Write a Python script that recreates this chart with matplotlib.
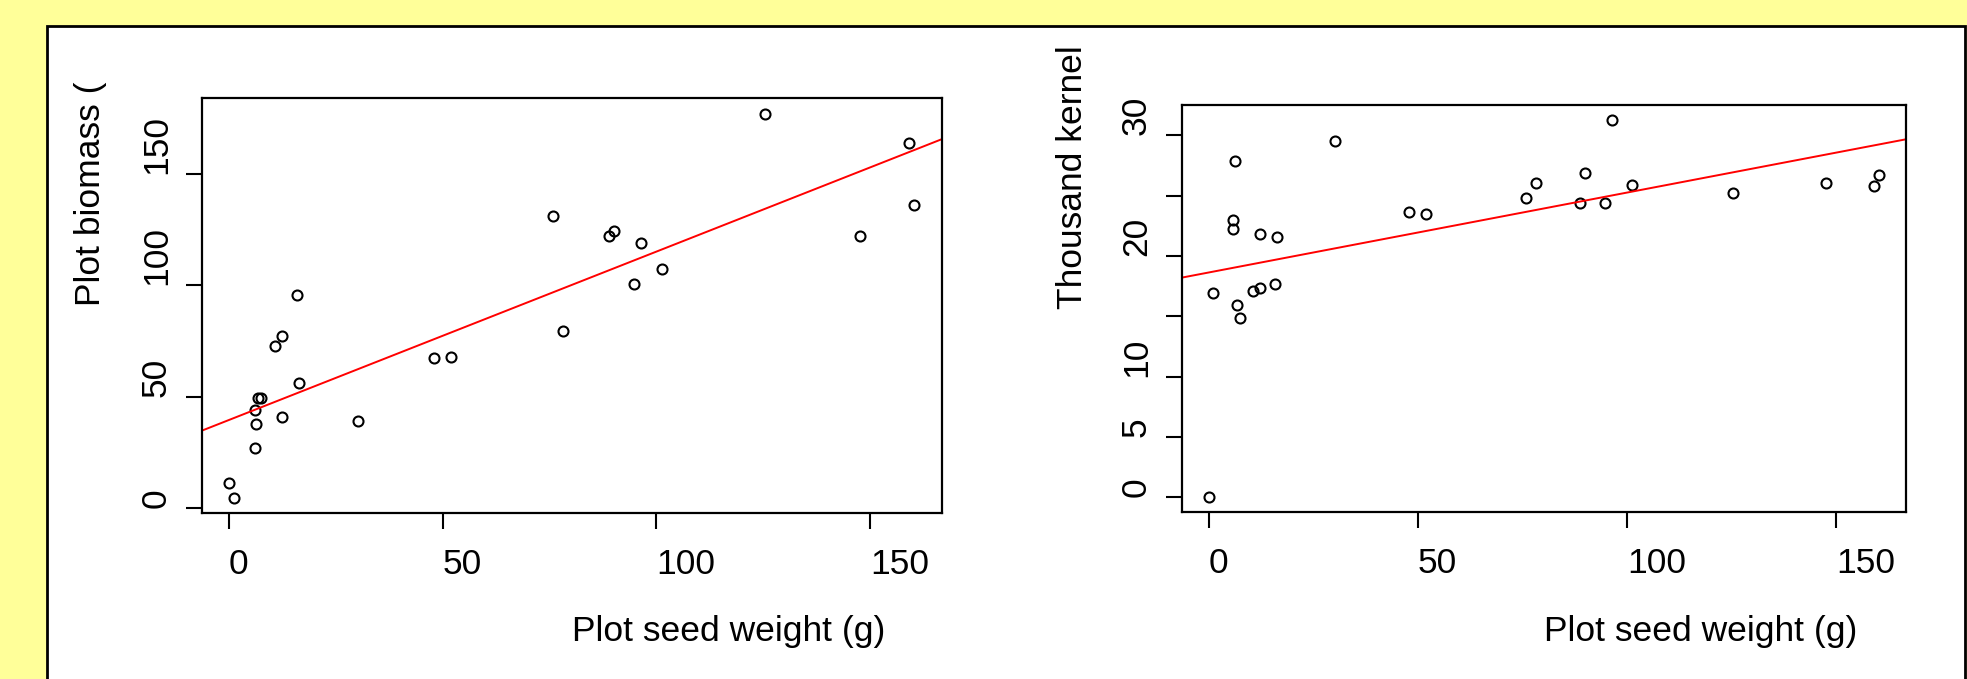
import matplotlib
matplotlib.use("Agg")
import matplotlib.pyplot as plt
import numpy as np
from matplotlib.patches import Rectangle
from matplotlib.transforms import blended_transform_factory

# ---- data ----
seed_weight = [0, 1.15, 5.95, 5.95, 6.3, 6.7, 7.5, 10.7, 12.3, 12.3, 15.9, 16.3,
               30.2, 48.0, 52.0, 75.8, 78.2, 88.9, 90.1, 94.8, 96.4, 101.2,
               125.4, 147.6, 159.1, 160.35]
biomass = [11.5, 4.6, 27.1, 44.0, 37.8, 49.4, 49.4, 72.7, 40.8, 77.2, 95.7, 56.4,
           39.3, 67.3, 67.9, 131.3, 79.7, 122.2, 124.5, 100.5, 119.1, 107.4,
           177.1, 122.2, 164.0, 136.0]
thousand_kernel = [0, 16.94, 22.97, 22.25, 27.86, 15.95, 14.84, 17.08, 17.36, 21.84,
                   17.64, 21.56, 29.55, 23.66, 23.52, 24.77, 26.04, 24.35, 26.89,
                   24.35, 31.24, 25.9, 25.2, 26.04, 25.76, 26.73]

x_ticks = [0, 50, 100, 150]
x_ticklabels = ["0", "50", "100", "150"]
y1_ticks = [0, 50, 100, 150]
y1_ticklabels = ["0", "50", "100", "150"]
y2_ticks = [0, 5, 10, 15, 20, 25, 30]
y2_ticklabels = ["0", "5", "10", "", "20", "", "30"]
x_label = "Plot seed weight (g)"
y1_label = "Plot biomass ("
y2_label = "Thousand kernel"

plt.rcParams["font.family"] = ["Liberation Sans", "DejaVu Sans"]

W, H = 1967, 679
fig = plt.figure(figsize=(W / 100, H / 100), dpi=100, facecolor="#FFFF99")

# white panel with black border (bottom edge beyond the image)
x0, x1 = 47.3 / W, 1965.3 / W
ytop = 1 - 25.6 / H
fig.add_artist(Rectangle((x0, -0.2), x1 - x0, ytop + 0.2, transform=fig.transFigure,
                         facecolor="white", edgecolor="black", linewidth=2.0, zorder=0))

FS = 25.5


def panel(rect, x, y, yticks, yticklabels, ylabel, ylabel_xpx):
    ax = fig.add_axes(rect)
    ax.set_facecolor("white")
    ax.plot(x, y, linestyle="none", marker="o", mfc="none", mec="black", ms=7.2, mew=1.5)
    slope, intercept = np.polyfit(x, y, 1)
    ax.axline((0, intercept), slope=slope, color="red", lw=1.4)
    xmin, xmax = min(x), max(x)
    ymin, ymax = min(y), max(y)
    dx, dy = 0.04 * (xmax - xmin), 0.04 * (ymax - ymin)
    ax.set_xlim(xmin - dx, xmax + dx)
    ax.set_ylim(ymin - dy, ymax + dy)
    ax.set_xticks(x_ticks)
    ax.set_xticklabels(x_ticklabels, ha="left")
    ax.set_yticks(yticks)
    ax.set_yticklabels(yticklabels, rotation=90, va="bottom", ha="right")
    ax.tick_params(direction="out", length=11.3, width=1.5, labelsize=FS, colors="black")
    ax.tick_params(axis="x", pad=14)
    ax.tick_params(axis="y", pad=9.4)
    for s in ax.spines.values():
        s.set_linewidth(1.6)
        s.set_color("black")
    ax.set_xlabel(x_label, fontsize=FS, ha="left", va="baseline")
    ax.xaxis.set_label_coords(0.5, 1 - 641 / H,
                              transform=blended_transform_factory(ax.transAxes, fig.transFigure))
    ax.set_ylabel(ylabel, fontsize=FS, ha="left", va="baseline")
    ax.yaxis.set_label_coords(ylabel_xpx / W, 0.5,
                              transform=blended_transform_factory(fig.transFigure, ax.transAxes))
    return ax


panel([201.7 / W, (H - 513.3) / H, 740 / W, 415 / H],
      seed_weight, biomass, y1_ticks, y1_ticklabels, y1_label, 100)
panel([1181.7 / W, (H - 512.3) / H, 724.3 / W, 407 / H],
      seed_weight, thousand_kernel, y2_ticks, y2_ticklabels, y2_label, 1082.2)

fig.savefig("out.png", dpi=100, facecolor=fig.get_facecolor())
